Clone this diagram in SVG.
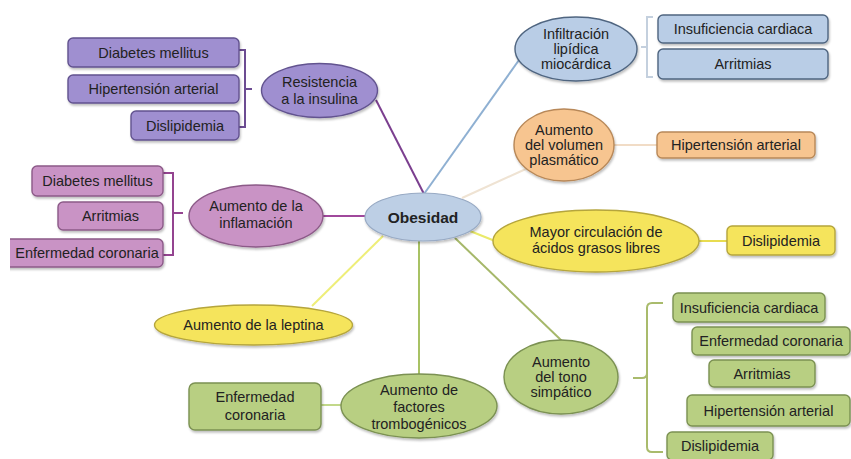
<svg xmlns="http://www.w3.org/2000/svg" width="851" height="459" viewBox="0 0 851 459">
<defs>
<filter id="sh" x="-10%" y="-10%" width="130%" height="140%">
<feDropShadow dx="1" dy="2" stdDeviation="1.2" flood-color="#000" flood-opacity="0.25"/>
</filter>
<clipPath id="clipL"><rect x="10" y="0" width="841" height="459"/></clipPath>
</defs>
<style>
text{font-family:"Liberation Sans","Open Sans",Arial,sans-serif;font-size:14.5px;fill:#222;text-anchor:middle}
.b{font-weight:bold;font-size:15.5px}
.pu{fill:#9f8fd0;stroke:#62538f;stroke-width:1.4}
.pk{fill:#c993c5;stroke:#8c5a88;stroke-width:1.4}
.bl{fill:#b9cde6;stroke:#4f6580;stroke-width:1.4}
.ob{fill:#bdcfe5;stroke:#98aac4;stroke-width:1.2}
.or{fill:#f7c590;stroke:#b88858;stroke-width:1.4}
.ye{fill:#f5e45b;stroke:#b5a53c;stroke-width:1.4}
.gr{fill:#b8cf82;stroke:#7b9152;stroke-width:1.4}
.sh{filter:url(#sh)}
.c{fill:none;stroke-width:2}
</style>
<rect width="851" height="459" fill="#fff"/>
<g id="connectors">
<line class="c" x1="376" y1="100" x2="424" y2="194" stroke="#7b3f8f"/>
<line class="c" x1="519" y1="60" x2="424" y2="194" stroke="#8fb0d2"/>
<line class="c" x1="462" y1="198" x2="528" y2="168" stroke="#efe3d3"/>
<line class="c" x1="470" y1="231" x2="495" y2="241" stroke="#eaea6a"/>
<line class="c" x1="323" y1="216" x2="366" y2="216" stroke="#a0489c"/>
<line class="c" x1="383" y1="236" x2="312" y2="306" stroke="#eeee78"/>
<line class="c" x1="419" y1="241" x2="419" y2="375" stroke="#a8c264"/>
<line class="c" x1="455" y1="238" x2="562" y2="341" stroke="#a6b86a"/>
<line class="c" x1="614" y1="145" x2="657" y2="145" stroke="#f1dcc6"/>
<line class="c" x1="699" y1="241" x2="727" y2="241" stroke="#e8dc50"/>
<line class="c" x1="321" y1="405" x2="341" y2="405" stroke="#c2d88a"/>
<path class="c" d="M239,50 H245 V127 H239 M245,89 H252" stroke="#6c4c92"/>
<path class="c" d="M163,173 H173 V255 H163 M173,213 H183" stroke="#944490"/>
<path class="c" d="M653,17 H647 V77 H653 M647,47 H641" stroke="#c4d0de" stroke-width="1.5"/>
<path class="c" d="M663,303 H652 Q647,303 647,308 V373 Q647,378 642,378 H633 M647,373 Q647,378 647,383 V447 Q647,452 652,452 H663" stroke="#a9bb6c"/>
</g>
<g id="n-diab1"><rect class="pu sh" x="68" y="38" width="171" height="29" rx="5"/><text x="153.5" y="58">Diabetes mellitus</text></g>
<g id="n-hta1"><rect class="pu sh" x="68" y="75" width="171" height="28" rx="5"/><text x="153.5" y="94">Hipertensión arterial</text></g>
<g id="n-disl1"><rect class="pu sh" x="131" y="111" width="108" height="29" rx="5"/><text x="185" y="131">Dislipidemia</text></g>
<g id="n-resist"><ellipse class="pu sh" cx="319.5" cy="90.5" rx="58" ry="27"/><text x="319.5" y="87">Resistencia</text><text x="319.5" y="104">a la insulina</text></g>
<g id="n-infil"><ellipse class="bl sh" cx="576" cy="49" rx="61" ry="32"/><text x="576" y="39">Infiltración</text><text x="576" y="54">lipídica</text><text x="576" y="69">miocárdica</text></g>
<g id="n-ic1"><rect class="bl sh" x="658" y="15" width="170" height="28" rx="5"/><text x="743" y="34">Insuficiencia cardiaca</text></g>
<g id="n-arr1"><rect class="bl sh" x="658" y="49" width="170" height="30" rx="5"/><text x="743" y="69">Arritmias</text></g>
<g id="n-vol"><ellipse class="or sh" cx="564" cy="145" rx="50" ry="36"/><text x="564" y="135">Aumento</text><text x="564" y="150">del volumen</text><text x="564" y="165">plasmático</text></g>
<g id="n-hta2"><rect class="or sh" x="657" y="132" width="158" height="26" rx="5"/><text x="736" y="150">Hipertensión arterial</text></g>
<g id="n-obes"><ellipse class="ob sh" cx="423" cy="217" rx="58" ry="24"/><text class="b" x="423" y="223">Obesidad</text></g>
<g id="n-mayor"><ellipse class="ye sh" cx="596" cy="241" rx="103" ry="31"/><text x="596" y="237">Mayor circulación de</text><text x="596" y="253">ácidos grasos libres</text></g>
<g id="n-disl2"><rect class="ye sh" x="727" y="226" width="108" height="29" rx="5"/><text x="781" y="246">Dislipidemia</text></g>
<g id="n-diab2"><rect class="pk sh" x="32" y="166" width="131" height="30" rx="5"/><text x="97.5" y="186">Diabetes mellitus</text></g>
<g id="n-arr2"><rect class="pk sh" x="58" y="202" width="105" height="28" rx="5"/><text x="110.5" y="221">Arritmias</text></g>
<g id="n-ec1"><g clip-path="url(#clipL)"><rect class="pk sh" x="0" y="239" width="163" height="28" rx="5"/></g><text x="87" y="258">Enfermedad coronaria</text></g>
<g id="n-infl"><ellipse class="pk sh" cx="256" cy="216" rx="67" ry="31"/><text x="256" y="211">Aumento de la</text><text x="256" y="228">inflamación</text></g>
<g id="n-lept"><ellipse class="ye sh" cx="253.5" cy="325" rx="99" ry="20"/><text x="253.5" y="330">Aumento de la leptina</text></g>
<g id="n-ec2"><rect class="gr sh" x="189" y="383" width="132" height="47" rx="6"/><text x="255" y="402">Enfermedad</text><text x="255" y="420">coronaria</text></g>
<g id="n-trombo"><ellipse class="gr sh" cx="419" cy="406" rx="78" ry="32"/><text x="419" y="395">Aumento de</text><text x="419" y="412">factores</text><text x="419" y="429">trombogénicos</text></g>
<g id="n-tono"><ellipse class="gr sh" cx="561" cy="377" rx="57" ry="37"/><text x="561" y="367">Aumento</text><text x="561" y="382">del tono</text><text x="561" y="397">simpático</text></g>
<g id="n-ic2"><rect class="gr sh" x="673" y="293" width="152" height="29" rx="5"/><text x="749" y="313">Insuficiencia cardiaca</text></g>
<g id="n-ec3"><rect class="gr sh" x="692" y="327" width="158" height="28" rx="5"/><text x="771" y="346">Enfermedad coronaria</text></g>
<g id="n-arr3"><rect class="gr sh" x="709" y="360" width="106" height="27" rx="5"/><text x="762" y="379">Arritmias</text></g>
<g id="n-hta3"><rect class="gr sh" x="687" y="395" width="163" height="31" rx="5"/><text x="768.5" y="416">Hipertensión arterial</text></g>
<g id="n-disl3"><rect class="gr sh" x="667" y="432" width="106" height="28" rx="5"/><text x="720" y="451">Dislipidemia</text></g>
</svg>
